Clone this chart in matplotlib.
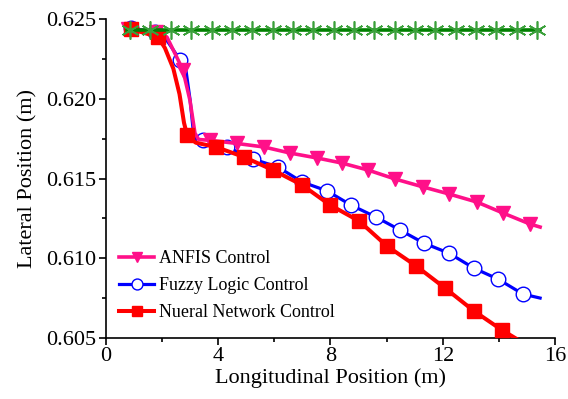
import matplotlib
matplotlib.use("Agg")
import matplotlib.pyplot as plt
from matplotlib.ticker import MultipleLocator

plt.rcParams['font.family'] = ['Liberation Serif', 'DejaVu Serif']
plt.rcParams['mathtext.fontset'] = 'stix'

# ---------------- data ----------------
anfis_x = [0.80, 1.77, 2.17, 2.50, 2.74, 2.99, 3.17, 3.30, 3.70, 4.67, 5.63, 6.56,
           7.52, 8.41, 9.34, 10.30, 11.30, 12.22, 13.22, 14.15, 15.11, 15.47]
anfis_y = [0.62440, 0.62420, 0.62389, 0.62270, 0.62182, 0.61993, 0.61785, 0.61745,
           0.61740, 0.61720, 0.61698, 0.61660, 0.61629, 0.61597, 0.61553, 0.61497,
           0.61447, 0.61403, 0.61352, 0.61283, 0.61214, 0.61195]
anfis_marks = [0, 1, 4, 8, 9, 10, 11, 12, 13, 14, 15, 16, 17, 18, 19, 20]

fuzzy_x = [0.80, 0.89, 1.75, 2.20, 2.64, 2.85, 3.00, 3.12, 3.20, 3.46, 4.31, 5.24,
           6.13, 6.99, 7.88, 8.73, 9.62, 10.48, 11.33, 12.22, 13.11, 13.97, 14.86, 15.47]
fuzzy_y = [0.62445, 0.62445, 0.62420, 0.62360, 0.62244, 0.62180, 0.61990, 0.61780,
           0.61745, 0.61741, 0.61698, 0.61622, 0.61572, 0.61478, 0.61422, 0.61333,
           0.61258, 0.61176, 0.61094, 0.61031, 0.60937, 0.60868, 0.60774, 0.60749]
fuzzy_marks = [1, 2, 4, 9, 10, 11, 12, 13, 14, 15, 16, 17, 18, 19, 20, 21, 22]

nn_x = [0.80, 0.89, 1.85, 2.10, 2.40, 2.62, 2.78, 2.89, 3.20, 3.92, 4.92, 5.95,
        6.99, 7.98, 9.02, 10.01, 11.05, 12.08, 13.11, 14.11, 14.75]
nn_y = [0.62440, 0.62439, 0.62389, 0.62320, 0.62190, 0.62030, 0.61850, 0.61773,
        0.61725, 0.61698, 0.61635, 0.61553, 0.61459, 0.61334, 0.61233, 0.61076,
        0.60951, 0.60812, 0.60668, 0.60548, 0.60480]
nn_marks = [1, 2, 7, 9, 10, 11, 12, 13, 14, 15, 16, 17, 18, 19]

ref_x = [0.75, 0.86, 1.585, 2.31, 3.035, 3.76, 4.485, 5.21, 5.935, 6.66, 7.385, 8.11,
         8.835, 9.56, 10.285, 11.01, 11.735, 12.46, 13.185, 13.91, 14.635, 15.36, 15.47]
ref_y = [0.6243] * len(ref_x)
ref_marks = list(range(1, 22))

labels = ["ANFIS Control", "Fuzzy Logic Control", "Nueral Network Control"]

# ---------------- plot ----------------
fig = plt.figure(figsize=(5.68, 3.99), dpi=100)
ax = fig.add_axes([0.1866, 0.1536, 0.7905, 0.798])

ax.plot(fuzzy_x, fuzzy_y, color='#0000FF', lw=2.3, marker='o', ms=10.5,
        mfc='white', mec='#0000FF', mew=1.0, markevery=fuzzy_marks,
        label=labels[1], zorder=2)
ax.plot(anfis_x, anfis_y, color='#FF1089', lw=2.6, marker='v', ms=10.5,
        mfc='#FF1089', mec='#FF1089', markevery=anfis_marks,
        label=labels[0], zorder=3)
ax.plot(nn_x, nn_y, color='#FF0000', lw=2.9, marker='s', ms=10.5,
        mfc='#FF0000', mec='#FF0000', markevery=nn_marks,
        label=labels[2], zorder=4)
ax.plot(ref_x, ref_y, color='#008000', lw=2.6, marker=(6, 2, 0), ms=13,
        mec='#3AA03A', mew=1.2, markevery=ref_marks, zorder=5)

ax.set_xlim(0, 16)
ax.set_ylim(0.605, 0.625)
ax.xaxis.set_major_locator(MultipleLocator(4))
ax.xaxis.set_minor_locator(MultipleLocator(2))
ax.yaxis.set_major_locator(MultipleLocator(0.005))
ax.yaxis.set_minor_locator(MultipleLocator(0.0025))
ax.yaxis.set_major_formatter(matplotlib.ticker.FormatStrFormatter('%.3f'))

for s in ['top', 'right']:
    ax.spines[s].set_visible(False)
for s in ['left', 'bottom']:
    ax.spines[s].set_linewidth(1.2)

ax.tick_params(which='major', direction='out', length=5, width=1.2, labelsize=16, pad=2)
ax.tick_params(which='minor', direction='out', length=3, width=1.2)

ax.set_xlabel("Longitudinal Position (m)", fontsize=16, labelpad=1)
ax.set_ylabel("Lateral Position (m)", fontsize=16, labelpad=6)

h, l = ax.get_legend_handles_labels()
order = [1, 0, 2]
ax.legend([h[i] for i in order], [l[i] for i in order], loc='upper left',
          bbox_to_anchor=(0.03, 0.275), frameon=False, fontsize=13,
          handlelength=1.9, handletextpad=0.3, labelspacing=0.55,
          borderpad=0, borderaxespad=0, markerscale=0.75)

fig.savefig("out.png", dpi=100)
